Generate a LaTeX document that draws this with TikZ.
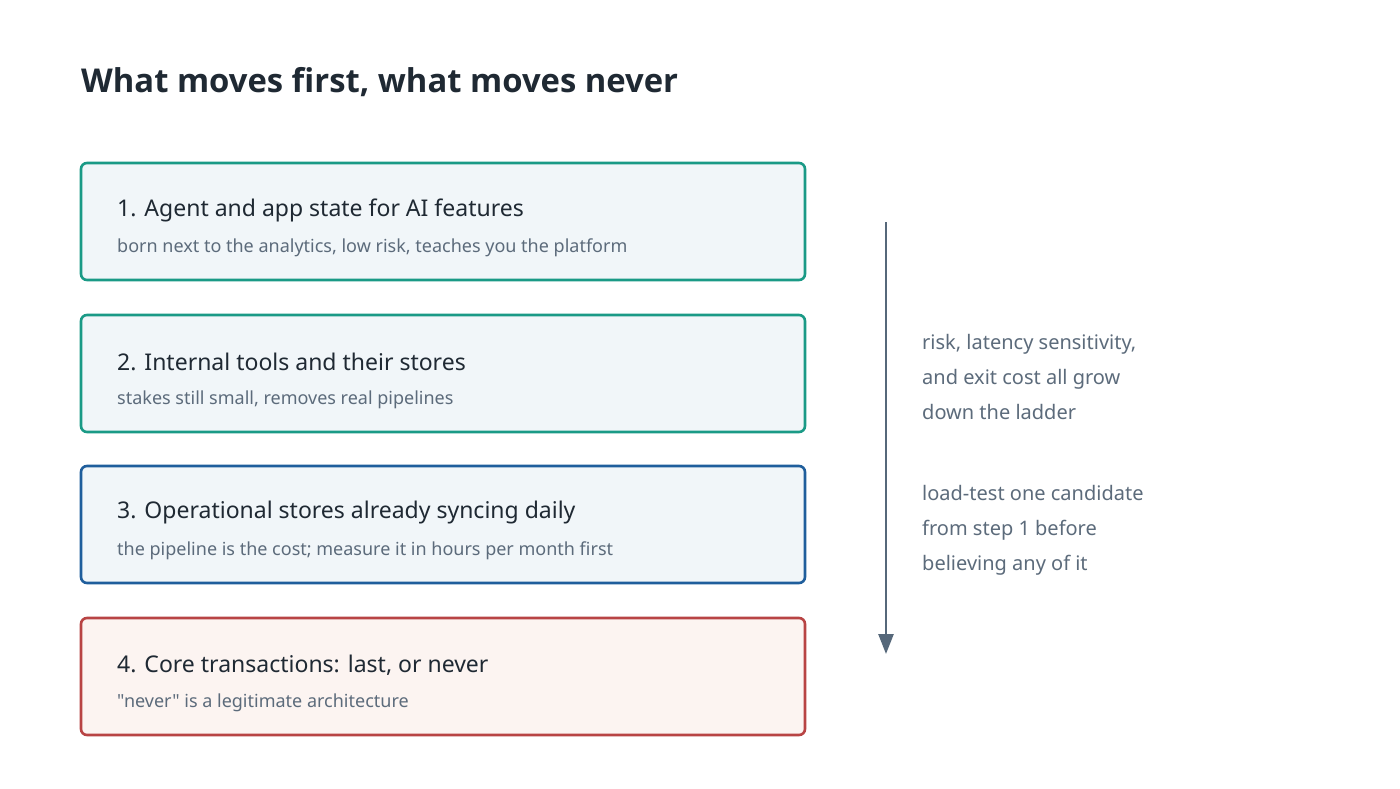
\documentclass[tikz,border=0pt]{standalone}
\usepackage{fontspec}
\setmainfont{Noto Sans}
\newfontfamily\plainfont{Noto Sans}
\newfontfamily\tf{Open Sans}[BoldFont={* Bold}]
\usetikzlibrary{arrows.meta}
\definecolor{teal}{HTML}{1A9A86}
\definecolor{blu}{HTML}{1F5E9C}
\definecolor{rd}{HTML}{B84444}
\definecolor{fl}{HTML}{F1F6F9}
\definecolor{rfl}{HTML}{FCF4F1}
\definecolor{ttl}{HTML}{1F2933}
\definecolor{sub}{HTML}{5C6B7B}
\definecolor{arr}{HTML}{56687A}
\begin{document}
\begin{tikzpicture}[x=1pt,y=-1pt,
  box/.style={draw=#1,line width=2.6pt,rounded corners=6pt,fill=fl},
  head/.style={anchor=west,font=\fontsize{23}{26}\selectfont,text=ttl,inner sep=0},
  note/.style={anchor=west,font=\fontsize{18}{21}\selectfont,text=sub,inner sep=0},
  side/.style={anchor=north west,align=left,font=\fontsize{20}{35}\selectfont,text=sub,inner sep=0}]
\useasboundingbox (0,0) rectangle (1400,788);
\fill[white] (0,0) rectangle (1400,788);
\node[anchor=west,inner sep=0,font=\tf\fontsize{32.8}{36}\selectfont\bfseries,text=ttl] (title) at (81,82) {What moves first, what moves never};
\draw[box=teal] (81,163) rectangle (805,280);
\node[head] (h1) at (117,210) {1. Agent and app state for AI features};
\node[note] (n1) at (117,248) {born next to the analytics, low risk, teaches you the platform};
\draw[box=teal] (81,315) rectangle (805,432);
\node[head] (h2) at (117,362) {2. Internal tools and their stores};
\node[note] (n2) at (117,400) {stakes still small, removes real pipelines};
\draw[box=blu] (81,466) rectangle (805,583);
\node[head] (h3) at (117,513) {3. Operational stores already syncing daily};
\node[note] (n3) at (117,551) {the pipeline is the cost; measure it in hours per month first};
\draw[box=rd,fill=rfl] (81,618) rectangle (805,735);
\node[head] (h4) at (117,665) {4. Core transactions: last, or never};
\node[note,font=\plainfont\fontsize{18}{21}\selectfont] (n4) at (117,703) {"never" is a legitimate architecture};
\coordinate (a1) at (886,222);
\coordinate (a2) at (886,654);
\draw[arr,line width=2.6pt,-{Triangle[length=20pt,width=15pt]}] (a1) -- (a2);
\node[side] (s1) at (922,334) {risk, latency sensitivity,\\and exit cost all grow\\down the ladder};
\node[side] (s2) at (922,485) {load-test one candidate\\from step 1 before\\believing any of it};
\end{tikzpicture}
\end{document}
